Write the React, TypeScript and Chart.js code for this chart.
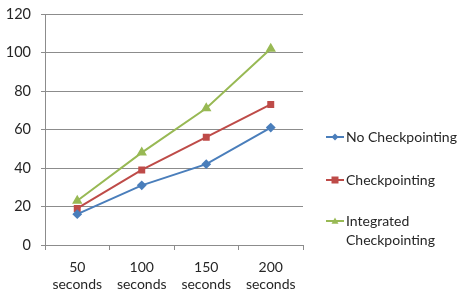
import React, { useEffect, useRef } from "react";
import { Chart, registerables } from "chart.js";

Chart.register(...registerables);

const categories = [["50", "seconds"], ["100", "seconds"], ["150", "seconds"], ["200", "seconds"]];
const noCheckpointing = [16, 31, 42, 61];
const checkpointing = [19, 39, 56, 73];
const integratedCheckpointing = [23, 48, 71, 102];
const seriesNames = ["No Checkpointing", "Checkpointing", "Integrated Checkpointing"];
const legendLines = [["No Checkpointing"], ["Checkpointing"], ["Integrated", "Checkpointing"]];
const legendY = [137, 180, 221];

const FONT = "Lato, 'Open Sans', sans-serif";
const TEXT = "#262626";
const GRID = "#8c8c8c";

const legendPlugin = {
  id: "sideLegend",
  afterDraw(chart: any) {
    const ctx = chart.ctx;
    ctx.save();
    chart.data.datasets.forEach((ds: any, i: number) => {
      const y = legendY[i];
      const x0 = 326;
      const x1 = 344;
      ctx.strokeStyle = ds.borderColor;
      ctx.lineWidth = 2;
      ctx.beginPath();
      ctx.moveTo(x0, y);
      ctx.lineTo(x1, y);
      ctx.stroke();
      ctx.fillStyle = ds.backgroundColor;
      const cx = (x0 + x1) / 2;
      const r = 3.5;
      ctx.beginPath();
      if (ds.pointStyle === "rectRot") {
        ctx.moveTo(cx, y - r); ctx.lineTo(cx + r, y); ctx.lineTo(cx, y + r); ctx.lineTo(cx - r, y);
      } else if (ds.pointStyle === "rect") {
        ctx.rect(cx - r, y - r, 2 * r, 2 * r);
      } else {
        ctx.moveTo(cx, y - r); ctx.lineTo(cx + r, y + r * 0.8); ctx.lineTo(cx - r, y + r * 0.8);
      }
      ctx.closePath();
      ctx.fill();
      ctx.fillStyle = TEXT;
      ctx.font = `14px ${FONT}`;
      ctx.textBaseline = "middle";
      ctx.textAlign = "left";
      legendLines[i].forEach((line, j) => {
        ctx.fillText(line, 346, y + j * 19);
      });
    });
    ctx.restore();
  },
};

export default function App() {
  const ref = useRef<HTMLCanvasElement | null>(null);
  useEffect(() => {
    document.body.style.margin = "0";
    const chart = new Chart(ref.current!, {
      type: "line",
      data: {
        labels: categories as any,
        datasets: [
          { label: seriesNames[0], data: noCheckpointing, borderColor: "#4a7ebb", backgroundColor: "#4a7ebb", pointStyle: "rectRot", pointRadius: 3.5, borderWidth: 2, tension: 0 },
          { label: seriesNames[1], data: checkpointing, borderColor: "#be4b48", backgroundColor: "#be4b48", pointStyle: "rect", pointRadius: 3.5, borderWidth: 2, tension: 0 },
          { label: seriesNames[2], data: integratedCheckpointing, borderColor: "#98b954", backgroundColor: "#98b954", pointStyle: "triangle", pointRadius: 4, borderWidth: 2, tension: 0 },
        ],
      },
      options: {
        animation: false,
        responsive: false,
        layout: { padding: { left: 0, right: 161, top: 14, bottom: 0 } },
        plugins: { legend: { display: false }, tooltip: { enabled: false } },
        scales: {
          x: {
            offset: true,
            grid: { offset: true, drawOnChartArea: false, drawTicks: true, tickLength: 5, color: GRID },
            border: { color: GRID },
            ticks: { color: TEXT, font: { family: FONT, size: 14 }, padding: 9, maxRotation: 0 },
            afterFit: (s: any) => { s.height = 51; s.paddingLeft = 0; s.paddingRight = 0; },
          },
          y: {
            min: 0,
            max: 120,
            ticks: { stepSize: 20, color: TEXT, font: { family: FONT, size: 14.5 }, padding: 10 },
            grid: { color: GRID, tickLength: 4 },
            border: { color: GRID },
            afterFit: (s: any) => { s.width = 45; s.paddingTop = 0; s.paddingBottom = 0; },
          },
        },
      },
      plugins: [legendPlugin],
    });
    return () => chart.destroy();
  }, []);
  return <canvas ref={ref} width={464} height={296} style={{ display: "block" }} />;
}
